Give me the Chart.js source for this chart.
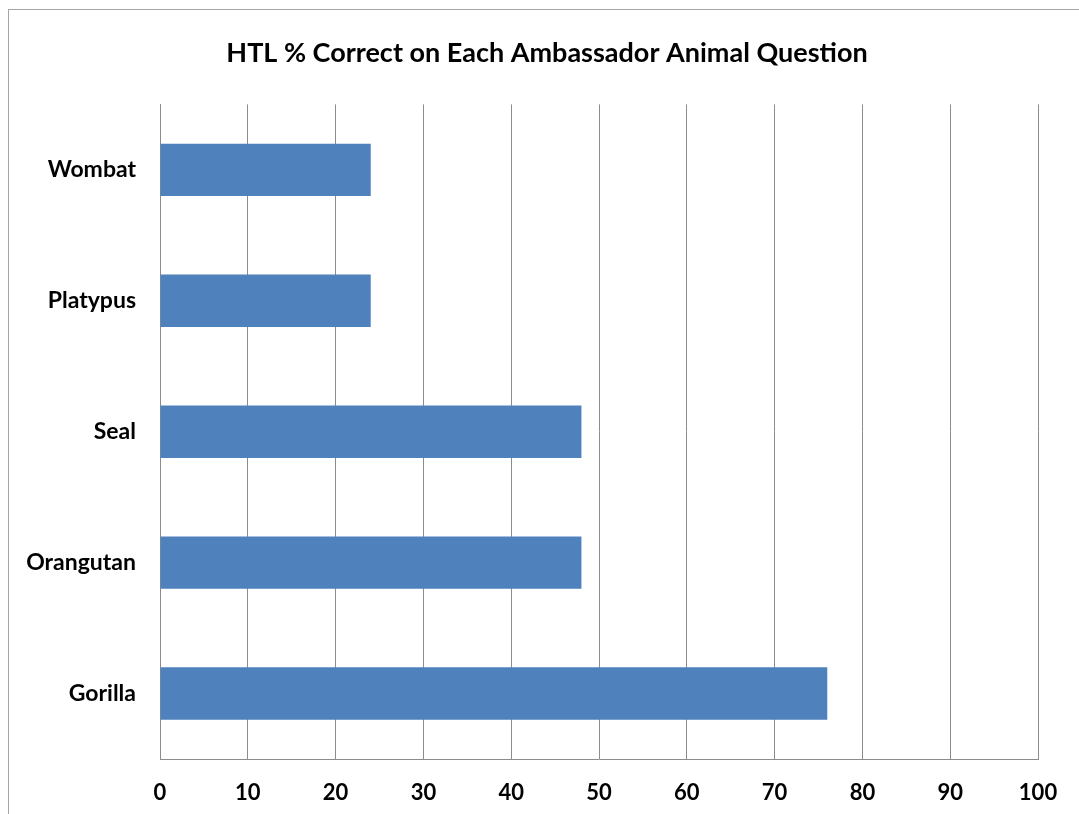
<!DOCTYPE html>
<html>
<head>
<meta charset="utf-8">
<script src="https://cdn.jsdelivr.net/npm/chart.js@4"></script>
<style>
    body { margin: 0; background: #fff; }
    #wrap { position: relative; width: 1079px; height: 814px; overflow: hidden; }
    #frame { position: absolute; left: 8px; top: 9px; right: -10px; bottom: -10px; border-top: 1px solid #a6a6a6; border-left: 1px solid #a6a6a6; }
    #myChart { position: absolute; left: 0; top: 0; }
</style>
</head>
<body>
<div id="wrap">
    <div id="frame"></div>
    <canvas id="myChart" width="1079" height="814"></canvas>
</div>
<script>
const animals = ['Wombat', 'Platypus', 'Seal', 'Orangutan', 'Gorilla']
const percentCorrect = [24, 24, 48, 48, 76]
const xTicks = [0, 10, 20, 30, 40, 50, 60, 70, 80, 90, 100]

const fontFamily = 'Lato, "Open Sans", sans-serif'

// nudge the title so it sits centred like the original (not over the full canvas)
const shiftTitle = {
    id: 'shiftTitle',
    afterLayout(chart) {
        if (chart.titleBlock) chart.titleBlock.left = 56
    }
}

window.addEventListener('DOMContentLoaded', function () {
    const chart = document.querySelector('#myChart')

    new Chart(chart, {
        type: 'bar',
        data: {
            labels: animals,
            datasets: [{
                data: percentCorrect,
                backgroundColor: '#4F81BD',
                borderWidth: 0,
                categoryPercentage: 1,
                barPercentage: 0.4
            }]
        },
        options: {
            indexAxis: 'y',
            responsive: false,
            animation: false,
            devicePixelRatio: 1,
            layout: { padding: { left: 0, right: 41, top: 0, bottom: 0 } },
            plugins: {
                legend: { display: false },
                tooltip: { enabled: false },
                title: {
                    display: true,
                    text: 'HTL % Correct on Each Ambassador Animal Question',
                    color: '#000',
                    font: { family: fontFamily, size: 27, weight: 'bold' },
                    padding: { top: 37, bottom: 35 }
                }
            },
            scales: {
                x: {
                    min: 0,
                    max: 100,
                    afterBuildTicks: axis => { axis.ticks = xTicks.map(v => ({ value: v })) },
                    afterFit: axis => { axis.height = 55 },
                    grid: { color: '#8c8c8c', lineWidth: 1, drawTicks: false },
                    border: { color: '#8c8c8c', width: 1 },
                    ticks: {
                        color: '#000',
                        padding: 21,
                        maxRotation: 0,
                        font: { family: fontFamily, size: 22, weight: 'bold' }
                    }
                },
                y: {
                    afterFit: axis => { axis.width = 160 },
                    grid: { display: false, drawTicks: false },
                    border: { color: '#8c8c8c', width: 1 },
                    ticks: {
                        color: '#000',
                        padding: 24,
                        font: { family: fontFamily, size: 23, weight: 'bold' }
                    }
                }
            }
        },
        plugins: [shiftTitle]
    })
})
</script>
</body>
</html>
